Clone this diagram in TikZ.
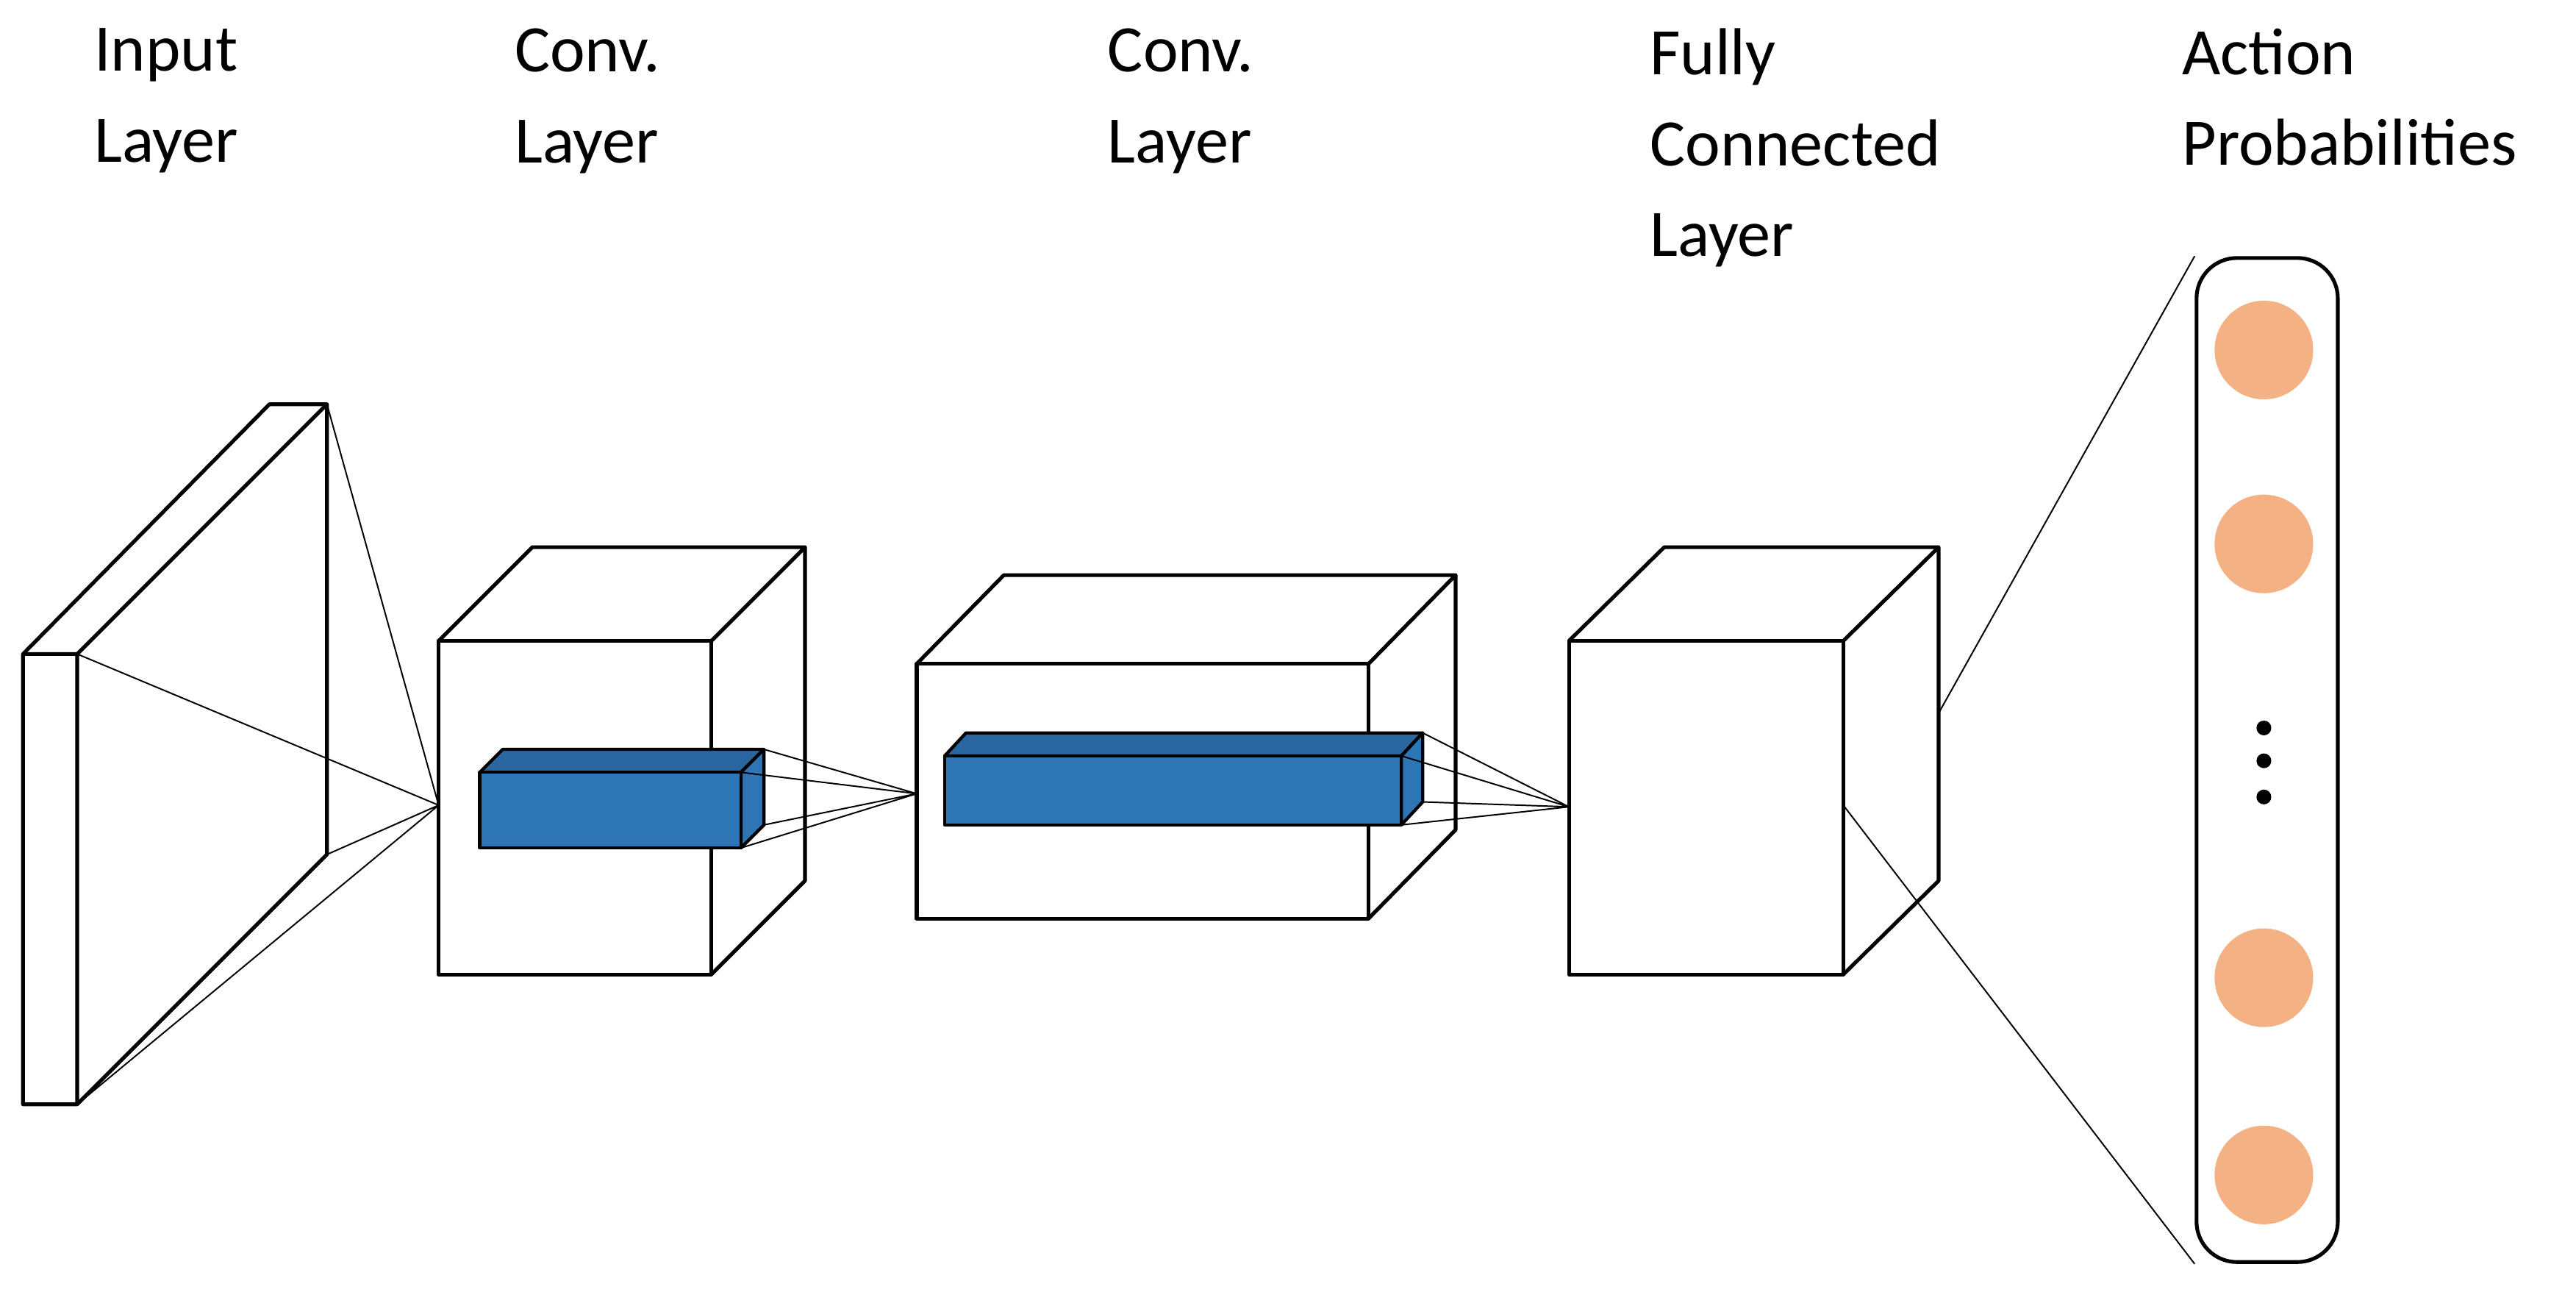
\documentclass[tikz,border=0pt]{standalone}
\usepackage{fontspec}
\setmainfont{Carlito}
\begin{document}
\begin{tikzpicture}[x=0.02cm,y=-0.02cm,
  edge/.style={line width=1.3pt,line join=round},
  conn/.style={line width=0.5pt},
  blue/.style={edge,fill=blue3d,line width=1.1pt},
  lbl/.style={anchor=north west,inner sep=0pt,align=left,font=\fontsize{23}{31.5}\selectfont}]
\definecolor{blue3d}{HTML}{2E75B6}
\definecolor{bluetop}{HTML}{2A66A0}
\definecolor{orng}{HTML}{F4B183}
\useasboundingbox (0,0) rectangle (1568,786);
% labels
\node[lbl] (l1) at (57,17) {Input\\Layer};
\node[lbl] (l2) at (313,17) {Conv.\\Layer};
\node[lbl] (l3) at (674,17) {Conv.\\Layer};
\node[lbl] (l4) at (1004,17) {Fully\\Connected\\Layer};
\node[lbl] (l5) at (1328,17) {Action\\Probabilities};
% input slab
\coordinate (ia) at (14,398); \coordinate (ib) at (47,398);
\coordinate (ic) at (47,672); \coordinate (id) at (14,672);
\coordinate (ie) at (164,246); \coordinate (iff) at (199,246); \coordinate (ig) at (199,520);
\draw[edge,fill=white] (ia) -- (ie) -- (iff) -- (ig) -- (ic) -- (id) -- cycle;
\draw[edge] (ia) -- (ib) -- (ic) (ib) -- (iff);
\coordinate (p1) at (267,490);
\draw[conn] (ib) -- (p1) (ic) -- (p1) (iff) -- (p1) (ig) -- (p1);
% conv1 cube
\coordinate (a1) at (267,390); \coordinate (b1) at (433,390); \coordinate (c1) at (433,593); \coordinate (d1) at (267,593);
\coordinate (e1) at (324,333); \coordinate (f1) at (490,333); \coordinate (g1) at (490,536);
\draw[edge] (a1) rectangle (c1);
\draw[edge] (a1) -- (e1) -- (f1) -- (g1) -- (c1) (b1) -- (f1);
% blue1
\coordinate (ba) at (292,470); \coordinate (bb) at (451,470); \coordinate (bc) at (451,516);
\coordinate (be) at (306,456); \coordinate (bf) at (465,456); \coordinate (bg) at (465,502);
\draw[blue,fill=bluetop] (ba) -- (be) -- (bf) -- (bb) -- cycle;
\draw[blue] (bb) -- (bf) -- (bg) -- (bc) -- cycle;
\draw[blue] (ba) rectangle (bc);
\coordinate (p2) at (558,483);
\draw[conn] (bb) -- (p2) (bf) -- (p2) (bg) -- (p2) (bc) -- (p2);
% conv2 cube
\coordinate (a2) at (558,404); \coordinate (b2) at (833,404); \coordinate (c2) at (833,559);
\coordinate (e2) at (611,350); \coordinate (f2) at (886,350); \coordinate (g2) at (886,505);
\draw[edge] (a2) rectangle (c2);
\draw[edge] (a2) -- (e2) -- (f2) -- (g2) -- (c2) (b2) -- (f2);
% blue2
\coordinate (ca) at (575,460); \coordinate (cb) at (853,460); \coordinate (cc) at (853,502);
\coordinate (ce) at (588,446); \coordinate (cf) at (866,446); \coordinate (cg) at (866,488);
\draw[blue,fill=bluetop] (ca) -- (ce) -- (cf) -- (cb) -- cycle;
\draw[blue] (cb) -- (cf) -- (cg) -- (cc) -- cycle;
\draw[blue] (ca) rectangle (cc);
\coordinate (p3) at (955,491);
\draw[conn] (cb) -- (p3) (cf) -- (p3) (cg) -- (p3) (cc) -- (p3);
% FC cube
\coordinate (a3) at (955,390); \coordinate (b3) at (1122,390); \coordinate (c3) at (1122,593);
\coordinate (e3) at (1013,333); \coordinate (f3) at (1180,333); \coordinate (g3) at (1180,536);
\draw[edge] (a3) rectangle (c3);
\draw[edge] (a3) -- (e3) -- (f3) -- (g3) -- (c3) (b3) -- (f3);
% output
\node[draw,line width=1.3pt,rounded corners=14,minimum width=86*0.02cm,minimum height=611*0.02cm,inner sep=0pt] (out) at (1380,462.5) {};
\coordinate (q1) at (1180,434); \coordinate (q2) at (1122,490);
\draw[conn] (q1) -- (out.north west) (q2) -- (out.south west);
\foreach \y/\n in {213/o1,331/o2,595/o3,715/o4}
  \node[circle,fill=orng,minimum size=60*0.02cm,inner sep=0pt] (\n) at (1378,\y) {};
\foreach \y/\n in {443/d1,463/d2,485/d3}
  \node[circle,fill=black,minimum size=9*0.02cm,inner sep=0pt] (\n) at (1378,\y) {};
\end{tikzpicture}
\end{document}
